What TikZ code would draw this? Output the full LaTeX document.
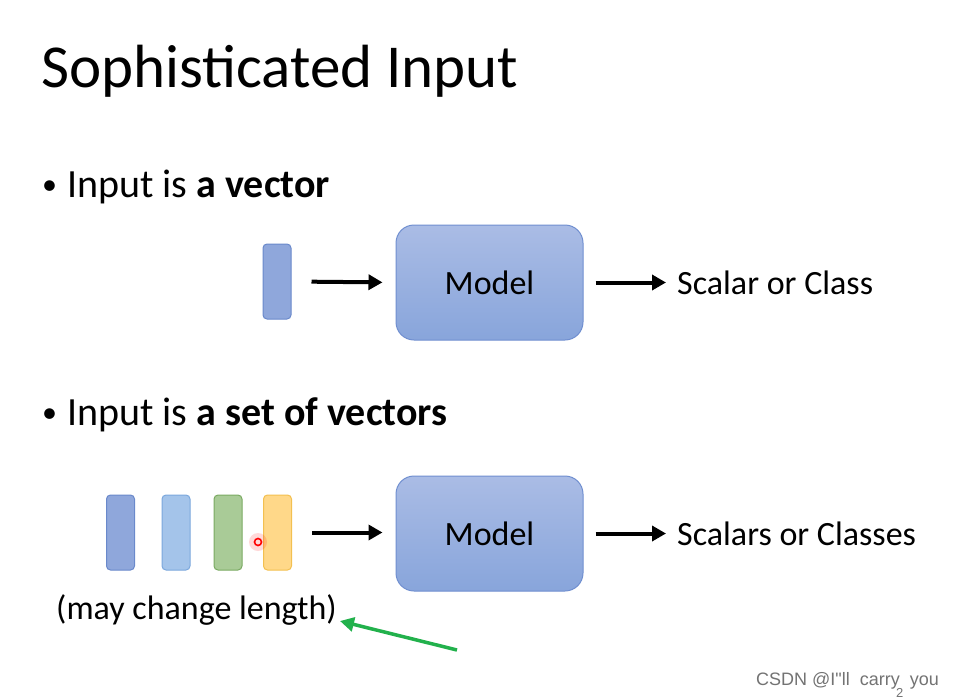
\documentclass[tikz,border=0pt]{standalone}
\usepackage{fontspec}
\setmainfont{Carlito}
\newfontfamily\wmfont{Liberation Sans}
\usetikzlibrary{arrows.meta}

\definecolor{modeltop}{RGB}{170,188,229}
\definecolor{modelbot}{RGB}{136,165,219}
\definecolor{modeledge}{RGB}{112,143,208}
\definecolor{bluefill}{RGB}{143,167,219}
\definecolor{blueedge}{RGB}{106,137,203}
\definecolor{skyfill}{RGB}{164,196,234}
\definecolor{skyedge}{RGB}{124,168,221}
\definecolor{greenfill}{RGB}{169,203,151}
\definecolor{greenedge}{RGB}{122,170,98}
\definecolor{orangefill}{RGB}{255,216,137}
\definecolor{orangeedge}{RGB}{243,192,80}
\definecolor{pointgreen}{RGB}{34,177,76}

\tikzset{
  txt/.style={anchor=base west, inner sep=0pt},
  modelbox/.style={draw=modeledge, line width=1pt, rounded corners=18pt,
    top color=modeltop, bottom color=modelbot,
    minimum width=187pt, minimum height=115pt, inner sep=0pt,
    font=\fontsize{34}{36}\selectfont},
  vecbar/.style 2 args={draw=#1, fill=#2, line width=1pt, rounded corners=4pt,
    minimum width=28pt, minimum height=75pt, inner sep=0pt},
  flow/.style={line width=4pt, -{Triangle[length=14pt,width=15pt]}},
}

\begin{document}
\begin{tikzpicture}[x=1pt,y=-1pt]
\useasboundingbox (0,0) rectangle (960,698);
\fill[white] (0,0) rectangle (960,698);

% Title
\node[txt, font=\fontsize{61}{64}\selectfont] (title) at (41,88) {Sophisticated Input};

% First bullet: one vector
\node[txt, font=\fontsize{30}{32}\selectfont] (bulletA) at (42,194) {•};
\node[txt, font=\fontsize{40}{42}\selectfont] (headA) at (67,197) {Input is \textbf{a vector}};
\node[vecbar={blueedge}{bluefill}] (vec) at (277,281.5) {};
\node[modelbox] (modelA) at (489.5,282.5) {Model};
\node[txt, font=\fontsize{34}{36}\selectfont] (outA) at (677,294) {Scalar or Class};
\draw[flow, shorten <=20pt, shorten >=13pt] (vec.east) -- (modelA.west);
\draw[flow, shorten <=12pt, shorten >=11pt] (modelA.east) -- (outA.west |- modelA.east);

% Second bullet: a set of vectors
\node[txt, font=\fontsize{30}{32}\selectfont] (bulletB) at (42,422) {•};
\node[txt, font=\fontsize{40}{42}\selectfont] (headB) at (67,425) {Input is \textbf{a set of vectors}};
\node[vecbar={blueedge}{bluefill}] (setA) at (120.5,532.5) {};
\node[vecbar={skyedge}{skyfill}] (setB) at (176,532.5) {};
\node[vecbar={greenedge}{greenfill}] (setC) at (228,532.5) {};
\node[vecbar={orangeedge}{orangefill}] (setD) at (277.5,532.5) {};
\node[modelbox] (modelB) at (489.5,533.5) {Model};
\node[txt, font=\fontsize{34}{36}\selectfont] (outB) at (677,545) {Scalars or Classes};
\draw[flow, shorten <=20pt, shorten >=13pt] (setD.east) -- (setD.east -| modelB.west);
\draw[flow, shorten <=12pt, shorten >=11pt] (modelB.east) -- (outB.west |- modelB.east);
\node[txt, font=\fontsize{34}{36}\selectfont] (length) at (56,619) {(may change length)};

% pointer marks
\coordinate (tail) at (457,650);
\draw[pointgreen, line width=3.5pt, -{Triangle[length=14pt,width=14pt]}] (tail) -- ([shift={(3,2)}]length.base east);
\fill[red, opacity=0.15] (258,542) circle (9);
\draw[red, line width=1.6pt] (258,542) circle (3.5);

% watermark
\node[txt, font=\wmfont\fontsize{18}{19}\selectfont, text=black!55] (mark) at (756,685) {CSDN @I"ll\ \ carry\ \ you};
\node[txt, font=\wmfont\fontsize{13}{14}\selectfont, text=black!55] (page) at (896,697) {2};
\end{tikzpicture}
\end{document}
